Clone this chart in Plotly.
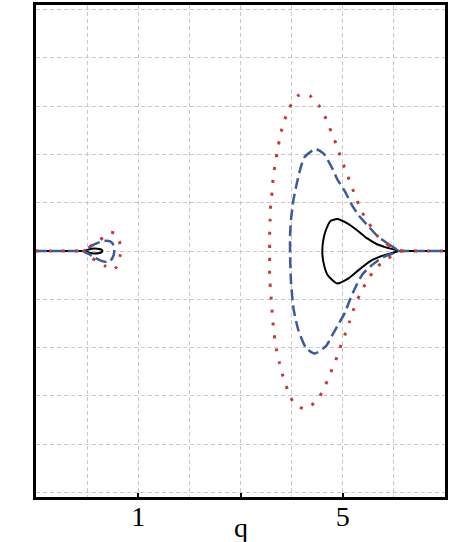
import plotly.graph_objects as go

# -- curve data (q horizontal, p vertical) --

# solid black
black_big_q = [6.09, 5.86, 5.67, 5.48, 5.28, 5.09, 4.89, 4.76, 4.67, 4.62, 4.60,
               4.62, 4.70, 4.89, 5.12, 5.35, 5.57, 5.83, 6.09]
black_big_p = [0.0, 0.07, 0.14, 0.26, 0.43, 0.57, 0.66, 0.62, 0.43, 0.23, 0.0,
               -0.22, -0.49, -0.67, -0.56, -0.36, -0.19, -0.08, 0.0]
black_small_q = [-0.06, 0.03, 0.14, 0.24, 0.29, 0.30, 0.29, 0.24, 0.14, 0.03, -0.06]
black_small_p = [0.0, 0.03, 0.05, 0.04, 0.02, 0.0, -0.02, -0.04, -0.05, -0.03, 0.0]
black_left_q = [-1.0, -0.06]
black_right_q = [6.09, 7.0]

# dashed blue
blue_big_q = [6.08, 5.93, 5.70, 5.51, 5.31, 5.18, 5.05, 4.89, 4.80, 4.63, 4.47, 4.25,
              4.17, 4.10, 4.04, 3.99, 3.97, 3.97, 3.99, 4.04, 4.13, 4.28, 4.45, 4.67,
              4.80, 4.93, 5.04, 5.14, 5.24, 5.38, 5.54, 5.80, 6.08]
blue_big_p = [0.0, 0.12, 0.29, 0.50, 0.74, 0.95, 1.22, 1.49, 1.70, 2.01, 2.11, 1.94,
              1.70, 1.39, 1.08, 0.67, 0.33, -0.12, -0.67, -1.21, -1.63, -2.00, -2.12, -1.97,
              -1.73, -1.49, -1.28, -1.01, -0.77, -0.49, -0.32, -0.12, 0.0]
blue_small_q = [-0.08, 0.05, 0.15, 0.26, 0.39, 0.49, 0.53, 0.52, 0.46, 0.39, 0.27, 0.14, 0.03, -0.08]
blue_small_p = [0.0, 0.08, 0.14, 0.19, 0.21, 0.17, 0.05, -0.08, -0.20, -0.23, -0.20, -0.13, -0.06, 0.0]
blue_left_q = [-1.0, -0.08]
blue_right_q = [6.08, 7.0]

# dotted red
red_big_q = [6.14, 5.90, 5.68, 5.52, 5.38, 5.27, 5.17, 5.07, 4.97, 4.88, 4.78, 4.67,
             4.54, 4.36, 4.24, 4.12, 3.96, 3.86, 3.78, 3.73, 3.68, 3.64, 3.62, 3.59,
             3.58, 3.57, 3.57, 3.57, 3.57, 3.59, 3.61, 3.63, 3.66, 3.70, 3.76, 3.83,
             3.92, 4.04, 4.25, 4.49, 4.63, 4.74, 4.85, 4.94, 5.04, 5.13, 5.22, 5.33,
             5.46, 5.62, 5.81, 6.04, 6.14]
red_big_p = [0.0, 0.12, 0.31, 0.56, 0.80, 1.07, 1.35, 1.63, 1.91, 2.19, 2.45, 2.74,
             3.00, 3.21, 3.25, 3.21, 2.97, 2.70, 2.41, 2.11, 1.82, 1.53, 1.24, 0.94,
             0.65, 0.34, 0.05, -0.24, -0.54, -0.84, -1.13, -1.43, -1.72, -2.02, -2.31, -2.59,
             -2.87, -3.14, -3.27, -3.10, -2.85, -2.57, -2.30, -2.02, -1.74, -1.47, -1.19, -0.91,
             -0.65, -0.39, -0.20, -0.06, 0.0]
red_small_q = [-0.05, 0.05, 0.15, 0.25, 0.36, 0.47, 0.57, 0.63, 0.66, 0.64, 0.58, 0.47,
               0.35, 0.22, 0.10, 0.02, -0.05]
red_small_p = [0.0, 0.09, 0.16, 0.23, 0.32, 0.39, 0.34, 0.20, 0.03, -0.12, -0.33, -0.40,
               -0.31, -0.22, -0.15, -0.07, 0.0]
red_left_q = [-1.0, -0.05]
red_right_q = [6.14, 7.0]

tick_vals = [1, 3, 5]
tick_text = ["1", "", "5"]

BLACK = "#000000"
BLUE = "#3b5b9d"
RED = "#c33b3b"

styles = [
    (BLACK, dict(width=2, dash="solid"),
     [(black_left_q, [0, 0]), (black_small_q, black_small_p),
      (black_big_q, black_big_p), (black_right_q, [0, 0])]),
    (BLUE, dict(width=2.5, dash="11px,5px"),
     [(blue_left_q, [0, 0]), (blue_small_q, blue_small_p),
      (blue_big_q, blue_big_p), (blue_right_q, [0, 0])]),
    (RED, dict(width=3, dash="3px,10px"),
     [(red_left_q, [0, 0]), (red_small_q, red_small_p),
      (red_big_q, red_big_p), (red_right_q, [0, 0])]),
]

fig = go.Figure()
for color, line, parts in styles:
    for qs, ps in parts:
        fig.add_trace(go.Scatter(x=qs, y=ps, mode="lines",
                                 line=dict(color=color, shape="spline", smoothing=0.6, **line),
                                 hoverinfo="skip", showlegend=False))

grid = dict(showgrid=True, gridcolor="#c8c8c8", gridwidth=1, griddash="4px,3px")

fig.update_xaxes(range=[-1, 7], tickvals=tick_vals, ticktext=tick_text,
                 ticks="inside", ticklen=4, tickwidth=1.5, tickcolor="black",
                 ticklabelstandoff=-7,
                 showline=True, linecolor="black", linewidth=2.5, mirror=True,
                 zeroline=False, tickfont=dict(family="Liberation Serif", size=28, color="black"),
                 minor=dict(dtick=1, tick0=0, ticks="", **grid), **grid)
fig.update_yaxes(range=[-5.09, 5.09], dtick=1, showticklabels=False, ticks="",
                 showline=True, linecolor="black", linewidth=2.5, mirror=True,
                 zeroline=False, **grid)

fig.add_annotation(text="q", xref="paper", yref="paper", x=0.5, y=0,
                   yanchor="top", yshift=-14, borderpad=0, showarrow=False,
                   font=dict(family="Liberation Serif", size=28, color="black"))

fig.update_layout(width=450, height=542, margin=dict(l=36, r=3, t=2, b=45),
                  plot_bgcolor="white", paper_bgcolor="white")

# page body has a default 8px margin; drop it so the figure sits at the top-left
fig.write_html("out.html", config={"displayModeBar": False},
               post_script="document.body.style.margin='0';")
